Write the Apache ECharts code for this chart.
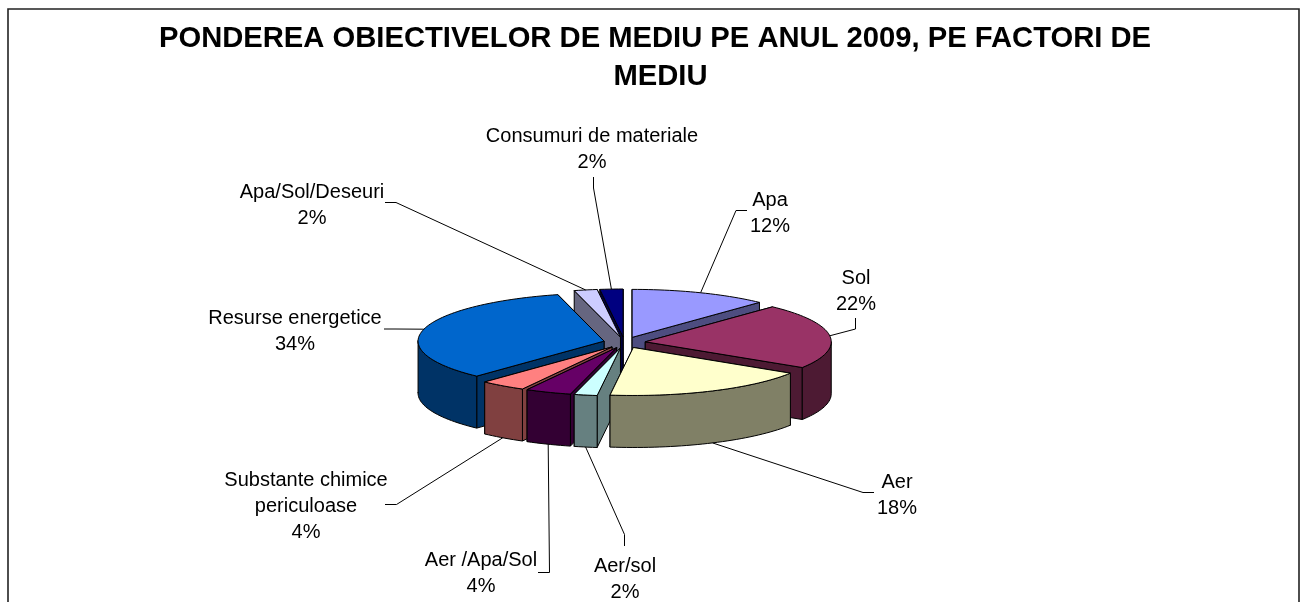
<!DOCTYPE html>
<html>
<head>
<meta charset="utf-8">
<title>Ponderea obiectivelor de mediu</title>
<style>
  html, body { margin: 0; padding: 0; background: #fff; }
  #chart { width: 1302px; height: 602px; }
</style>
<script src="https://cdn.jsdelivr.net/npm/echarts@6/dist/echarts.min.js"></script>
</head>
<body>
<div id="chart"></div>
<script>
// ---- data (clockwise from 12 o'clock) ----
var titleLines = ["PONDEREA OBIECTIVELOR DE MEDIU PE ANUL 2009, PE FACTORI DE", "MEDIU"];
var categories = ["Apa", "Sol", "Aer", "Aer/sol", "Aer /Apa/Sol", "Substante chimice\npericuloase", "Resurse energetice", "Apa/Sol/Deseuri", "Consumuri de materiale"];
var shares = [12, 22, 18, 2, 4, 4, 34, 2, 2];
var topColors = ["#9999FF", "#993366", "#FFFFCC", "#CCFFFF", "#660066", "#FF8080", "#0066CC", "#CCCCFF", "#000080"];
var wallColors = ["#4D4D80", "#4D1A33", "#808066", "#668080", "#330033", "#804040", "#003366", "#666680", "#000040"];
// back slices first, so the nearer ones cover them
var drawOrder = [8, 7, 0, 1, 6, 5, 4, 3, 2];

// ---- layout ----
var PIE = { cx: 624.4, cy: 342.5, rx: 186, ry: 48, depth: 52, ex: 21, ey: 5.5 };
var titleCenterX = [655, 660.5];
var titleTop = [24, 62];
var labelCenter = [[770, 200], [856, 278], [897, 482], [625, 566], [481, 560], [306, 480], [295, 318], [312, 192], [592, 136]];
var leaderKnees = [
  [[736, 210.5], [747, 210.5]],
  [[855.5, 329], [855.5, 318]],
  [[863, 492.5], [874, 492.5]],
  [[624.5, 534.5], [624.5, 546]],
  [[549.5, 572.5], [538, 572.5]],
  [[396.5, 504.5], [385, 504.5]],
  [[395, 329], [384, 329]],
  [[396, 202.5], [385, 202.5]],
  [[593.5, 188], [593.5, 177]]
];
var LINE_H = 26;
var FONT = "'Liberation Sans', Arial, sans-serif";

// fractions of the circle where each slice starts and ends
var total = shares.reduce(function (a, b) { return a + b; }, 0);
var bounds = [0];
shares.forEach(function (v, i) { bounds.push(bounds[i] + v / total); });

function sliceGeom(i) {
  var a0 = bounds[i] * 2 * Math.PI, a1 = bounds[i + 1] * 2 * Math.PI, mid = (a0 + a1) / 2;
  return {
    a0: a0, a1: a1, mid: mid,
    tx: PIE.cx + PIE.ex * Math.sin(mid),
    ty: PIE.cy - PIE.ey * Math.cos(mid)
  };
}
function rimPoint(g, a) {
  return [g.tx + PIE.rx * Math.sin(a), g.ty - PIE.ry * Math.cos(a)];
}
function arcPoints(g) {
  var pts = [], n = Math.max(4, Math.ceil((g.a1 - g.a0) / 0.03));
  for (var k = 0; k <= n; k++) pts.push(rimPoint(g, g.a0 + (g.a1 - g.a0) * k / n));
  return pts;
}
function poly(points, fill) {
  return {
    type: "polygon",
    shape: { points: points },
    style: { fill: fill, stroke: "#000", lineWidth: 1, lineJoin: "round" }
  };
}
function down(p) { return [p[0], p[1] + PIE.depth]; }

function renderSlice(params, api) {
  var i = api.value(0);
  var g = sliceGeom(i);
  var tip = [g.tx, g.ty];
  var arc = arcPoints(g);
  var first = arc[0], last = arc[arc.length - 1];
  var wall = wallColors[i];
  var kids = [
    poly([tip, first, down(first), down(tip)], wall),
    poly([tip, last, down(last), down(tip)], wall)
  ];
  // back-facing radial wall goes first
  if (Math.cos(g.a0) < Math.cos(g.a1)) kids.reverse();

  // outer wall: only the part of the rim facing the viewer
  var front = arc.filter(function (p, k) {
    return Math.cos(g.a0 + (g.a1 - g.a0) * k / (arc.length - 1)) < 0.02;
  });
  if (Math.sin(g.a0) > 0 && Math.cos(g.a0) > 0 && front.length) {
    front.unshift([g.tx + PIE.rx, g.ty]);
  }
  if (Math.sin(g.a1) < 0 && Math.cos(g.a1) > 0 && front.length) {
    front.push([g.tx - PIE.rx, g.ty]);
  }
  if (front.length > 1) {
    kids.push(poly(front.concat(front.slice().reverse().map(down)), wall));
  }
  kids.push(poly([tip].concat(arc), topColors[i]));
  return { type: "group", children: kids };
}

function renderLabel(params, api) {
  var i = api.value(0);
  var g = sliceGeom(i);
  var rim = rimPoint(g, g.mid);
  if (Math.cos(g.mid) < 0) rim = down(rim);
  var c = labelCenter[i];
  var lines = categories[i].split("\n");
  lines.push(shares[i] + "%");
  var kids = [{
    type: "polyline",
    shape: { points: [rim].concat(leaderKnees[i]) },
    style: { fill: null, stroke: "#000", lineWidth: 1 }
  }];
  lines.forEach(function (t, k) {
    kids.push({
      type: "text",
      style: {
        text: t, x: c[0], y: c[1] + k * LINE_H,
        align: "center", verticalAlign: "middle",
        font: "20px " + FONT, fill: "#000"
      }
    });
  });
  return { type: "group", children: kids };
}

var chart = echarts.init(document.getElementById("chart"), null, { renderer: "canvas" });
chart.setOption({
  animation: false,
  backgroundColor: "#fff",
  // two titles: the second line does not share the first one's centre in the original
  title: titleLines.map(function (t, i) {
    return {
      text: t,
      left: titleCenterX[i], top: titleTop[i], textAlign: "center", padding: 0,
      textStyle: { fontFamily: FONT, fontSize: 29.2, fontWeight: "bold", color: "#000" }
    };
  }),
  graphic: [{
    type: "polyline",
    shape: { points: [[8, 602], [8, 9], [1299, 9], [1299, 602]] },
    style: { fill: null, stroke: "#222", lineWidth: 1.6 },
    silent: true
  }],
  series: [
    { type: "custom", coordinateSystem: "none", renderItem: renderSlice, data: drawOrder.map(function (i) { return [i]; }), silent: true, z: 2 },
    { type: "custom", coordinateSystem: "none", renderItem: renderLabel, data: shares.map(function (v, i) { return [i]; }), silent: true, z: 3 }
  ]
});
</script>
</body>
</html>
